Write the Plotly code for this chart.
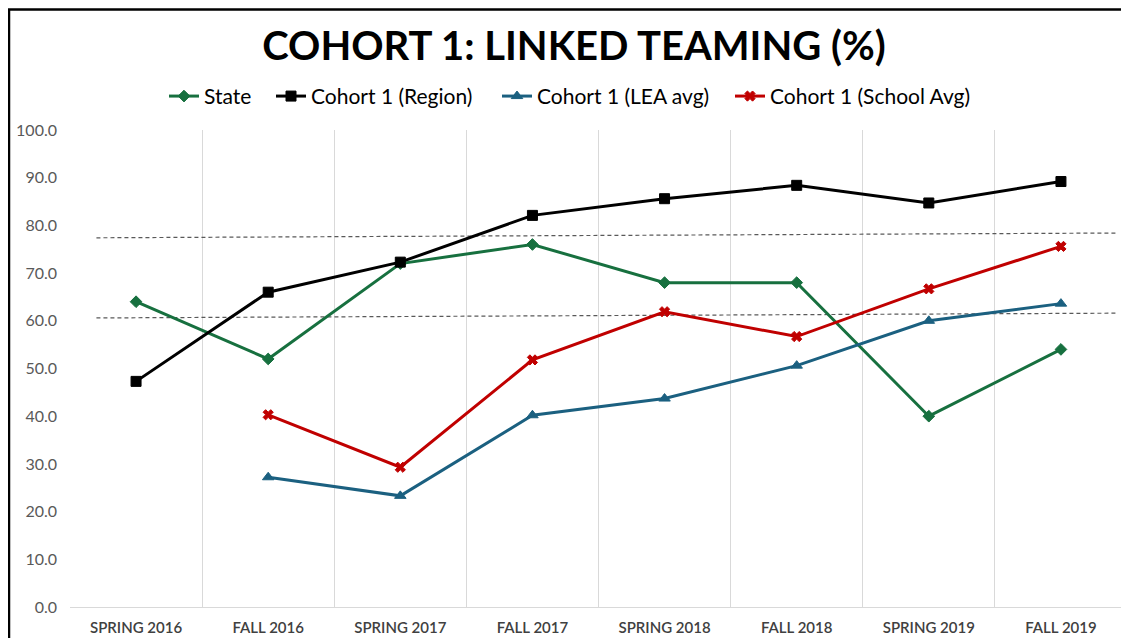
import plotly.graph_objects as go

categories = ["SPRING 2016", "FALL 2016", "SPRING 2017", "FALL 2017",
              "SPRING 2018", "FALL 2018", "SPRING 2019", "FALL 2019"]
state = [64.0, 52.0, 72.0, 76.0, 68.0, 68.0, 40.0, 54.0]
region = [47.3, 66.0, 72.3, 82.1, 85.6, 88.4, 84.7, 89.2]
lea_avg = [None, 27.2, 23.3, 40.2, 43.7, 50.6, 60.0, 63.6]
school_avg = [None, 40.3, 29.3, 51.8, 61.9, 56.7, 66.7, 75.6]

# dashed reference lines (start/end positions along the category axis, value)
ref_x = [-0.3, 7.42]
upper_ref = [77.4, 78.4]
lower_ref = [60.6, 61.6]

y_ticks = [0, 10, 20, 30, 40, 50, 60, 70, 80, 90, 100]

x_idx = list(range(len(categories)))
FONT = "Lato, Carlito, 'Liberation Sans', sans-serif"

OFF = 8  # page body margin
W, H = 1129 - OFF, 638 - OFF
L, R, T, B = 70 - OFF, 2, 130 - OFF, 25
pw, ph = W - L - R, H - T - B

def px_to_paper_x(px):
    return (px - OFF - L) / pw

def px_to_paper_y(py):
    return (H - B - (py - OFF)) / ph

fig = go.Figure()

for vals in (upper_ref, lower_ref):
    fig.add_trace(go.Scatter(
        x=ref_x, y=vals, mode="lines", showlegend=False, hoverinfo="skip",
        line=dict(color="#595959", width=1.2, dash="4px,3px")))

series = [
    ("State", state, "#17703F", "diamond", 9, "legend", 204),
    ("Cohort 1 (Region)", region, "#000000", "square", 10, "legend2", 311),
    ("Cohort 1 (LEA avg)", lea_avg, "#1B6080", "triangle-up", 10, "legend3", 537),
    ("Cohort 1 (School Avg)", school_avg, "#C00000", "x", 9, "legend4", 770),
]
legends = {}
for name, vals, color, sym, size, leg, text_x in series:
    fig.add_trace(go.Scatter(
        x=x_idx, y=vals, name=name, mode="lines+markers", legend=leg,
        line=dict(color=color, width=3),
        marker=dict(symbol=sym, size=size, color=color,
                    line=dict(color=color, width=1))))
    legends[leg] = dict(orientation="h", x=px_to_paper_x(text_x - 40),
                        xanchor="left", y=px_to_paper_y(96), yanchor="middle",
                        font=dict(family=FONT, size=21, color="#000000"),
                        itemwidth=30, bgcolor="rgba(0,0,0,0)")

fig.update_layout(
    width=W, height=H,
    margin=dict(l=L, r=R, t=T, b=B),
    paper_bgcolor="white", plot_bgcolor="white",
    font=dict(family=FONT, color="#404040"),
    title=dict(text="<b>COHORT 1: LINKED TEAMING (%)</b>",
               font=dict(family=FONT, size=40, color="#000000"),
               x=(574 - OFF) / W, xref="container", xanchor="center",
               y=1 - (46 - OFF) / H, yref="container", yanchor="middle"),
    xaxis=dict(range=[-0.5, 7.5], tickvals=x_idx, ticktext=categories,
               showgrid=False, zeroline=False, showline=True,
               linecolor="#d9d9d9", linewidth=1, ticks="",
               ticklabelstandoff=7,
               tickfont=dict(family=FONT, size=15, color="#404040",
                             weight=600),
               minor=dict(tickvals=[i - 0.5 for i in range(9)], showgrid=True,
                          gridcolor="#d9d9d9", gridwidth=1, ticks="")),
    yaxis=dict(range=[0, 100], tickvals=y_ticks,
               ticktext=[f"{v:.1f}" for v in y_ticks],
               showgrid=False, zeroline=False, showline=False, ticks="",
               ticklabelstandoff=12,
               tickfont=dict(family=FONT, size=16, color="#595959")),
    shapes=[dict(type="rect", xref="paper", yref="paper",
                 x0=px_to_paper_x(9), x1=px_to_paper_x(1160),
                 y0=px_to_paper_y(660), y1=px_to_paper_y(8),
                 line=dict(color="#000000", width=2.5),
                 fillcolor="rgba(0,0,0,0)", layer="above")],
    **legends,
)

fig.write_html("out.html")
